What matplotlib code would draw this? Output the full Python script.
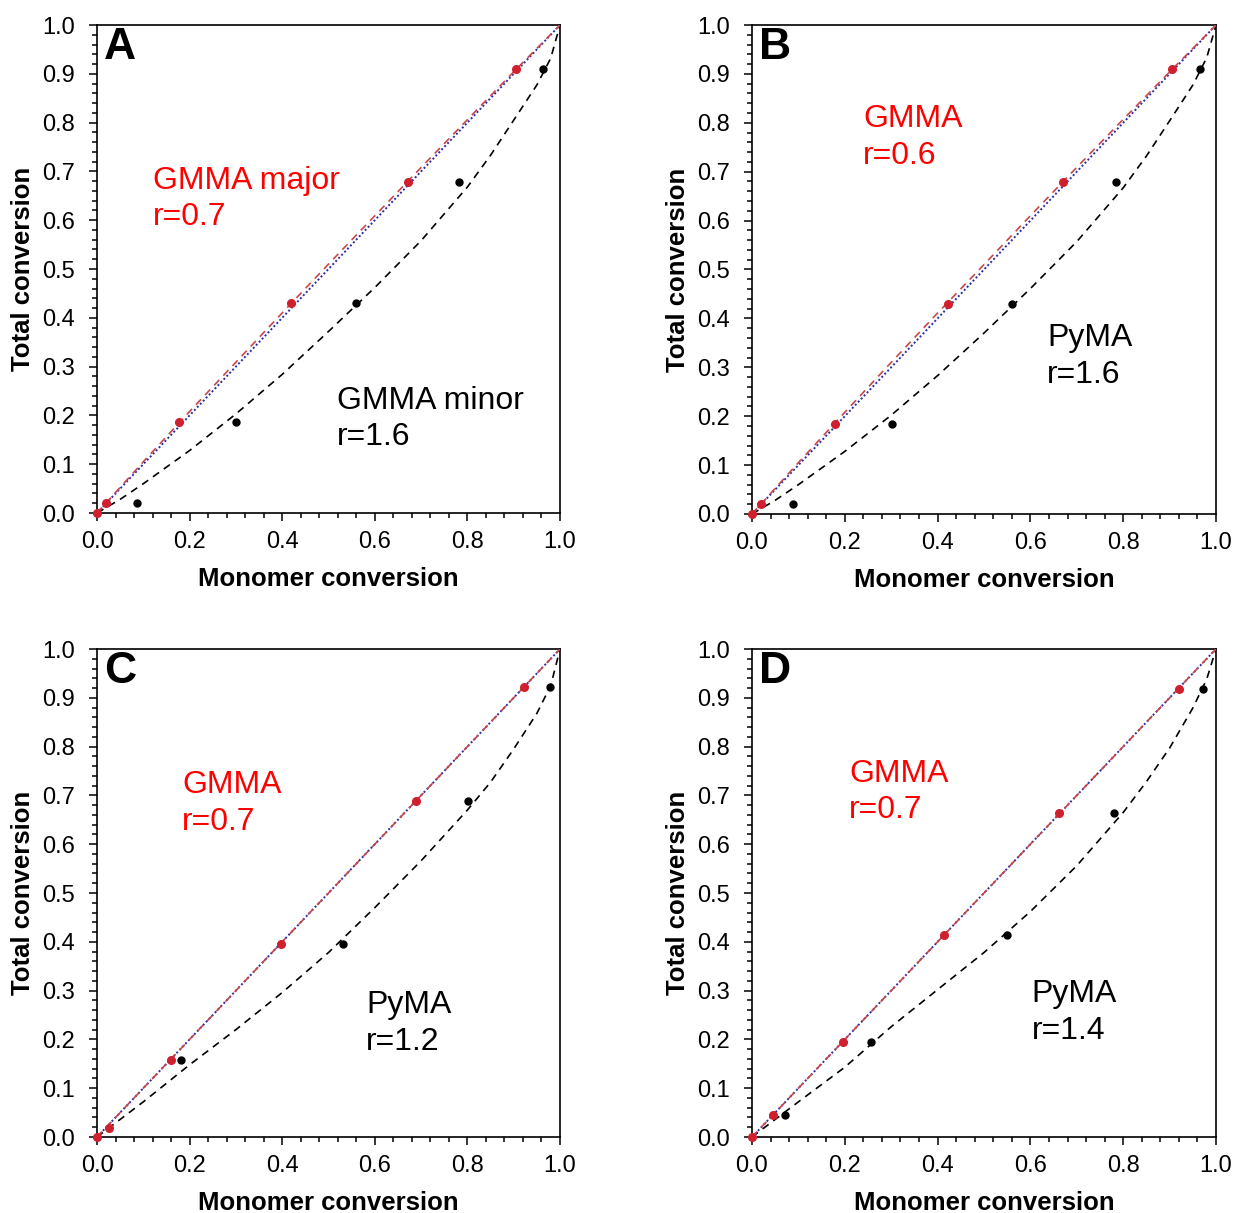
import matplotlib
matplotlib.use("Agg")
import matplotlib.pyplot as plt
from matplotlib.ticker import MultipleLocator, FormatStrFormatter

plt.rcParams['font.family'] = ['Liberation Sans', 'DejaVu Sans']

# ---------------- data ----------------
panel_letters = ["A", "B", "C", "D"]

# Panel A
A_red_x = [0.0, 0.019, 0.178, 0.420, 0.671, 0.904]
A_red_y = [0.0, 0.021, 0.186, 0.431, 0.679, 0.910]
A_blk_x = [0.087, 0.300, 0.559, 0.782, 0.963]
A_blk_y = [0.021, 0.186, 0.431, 0.679, 0.910]
A_fit_red_x = [0.0, 0.1, 0.2, 0.3, 0.4, 0.5, 0.6, 0.7, 0.8, 0.9, 1.0]
A_fit_red_y = [0.0, 0.105, 0.208, 0.309, 0.410, 0.510, 0.609, 0.708, 0.806, 0.904, 1.0]
A_fit_blk_x = [0.0, 0.05, 0.1, 0.2, 0.3, 0.4, 0.5, 0.6, 0.7, 0.8, 0.85, 0.9, 0.95, 0.98, 1.0]
A_fit_blk_y = [0.0, 0.028, 0.060, 0.128, 0.203, 0.284, 0.372, 0.462, 0.558, 0.668, 0.733, 0.805, 0.877, 0.932, 1.0]

# Panel B
B_red_x = [0.0, 0.020, 0.179, 0.422, 0.671, 0.906]
B_red_y = [0.0, 0.020, 0.185, 0.429, 0.678, 0.909]
B_blk_x = [0.088, 0.301, 0.561, 0.784, 0.965]
B_blk_y = [0.020, 0.185, 0.429, 0.678, 0.909]
B_fit_red_x = [0.0, 0.1, 0.2, 0.3, 0.4, 0.5, 0.6, 0.7, 0.8, 0.9, 1.0]
B_fit_red_y = [0.0, 0.105, 0.208, 0.310, 0.411, 0.510, 0.610, 0.709, 0.807, 0.904, 1.0]
B_fit_blk_x = [0.0, 0.05, 0.1, 0.2, 0.3, 0.4, 0.5, 0.6, 0.7, 0.8, 0.85, 0.9, 0.95, 0.98, 1.0]
B_fit_blk_y = [0.0, 0.028, 0.060, 0.128, 0.202, 0.283, 0.370, 0.461, 0.557, 0.667, 0.732, 0.804, 0.877, 0.933, 1.0]

# Panel C
C_red_x = [0.0, 0.025, 0.160, 0.397, 0.689, 0.922]
C_red_y = [0.0, 0.019, 0.158, 0.395, 0.688, 0.923]
C_blk_x = [0.182, 0.531, 0.801, 0.979]
C_blk_y = [0.158, 0.395, 0.688, 0.923]
C_fit_red_x = [0.0, 1.0]
C_fit_red_y = [0.0, 1.0]
C_fit_blk_x = [0.0, 0.1, 0.2, 0.3, 0.4, 0.5, 0.6, 0.7, 0.8, 0.85, 0.9, 0.95, 0.98, 1.0]
C_fit_blk_y = [0.0, 0.072, 0.148, 0.220, 0.296, 0.378, 0.470, 0.566, 0.670, 0.727, 0.795, 0.868, 0.925, 1.0]

# Panel D
D_red_x = [0.0, 0.046, 0.197, 0.414, 0.662, 0.920]
D_red_y = [0.0, 0.046, 0.194, 0.413, 0.664, 0.919]
D_blk_x = [0.072, 0.256, 0.549, 0.780, 0.973]
D_blk_y = [0.046, 0.194, 0.413, 0.664, 0.919]
D_fit_red_x = [0.0, 1.0]
D_fit_red_y = [0.0, 1.0]
D_fit_blk_x = [0.0, 0.1, 0.2, 0.3, 0.4, 0.5, 0.6, 0.7, 0.8, 0.85, 0.9, 0.95, 0.98, 1.0]
D_fit_blk_y = [0.0, 0.072, 0.143, 0.226, 0.302, 0.378, 0.462, 0.556, 0.665, 0.728, 0.797, 0.879, 0.938, 1.0]

diag_x = [0.0, 1.0]
diag_y = [0.0, 1.0]

upper_labels = ["GMMA major\nr=0.7", "GMMA\nr=0.6", "GMMA\nr=0.7", "GMMA\nr=0.7"]
lower_labels = ["GMMA minor\nr=1.6", "PyMA\nr=1.6", "PyMA\nr=1.2", "PyMA\nr=1.4"]
upper_pos = [(0.121, 0.644), (0.239, 0.77), (0.184, 0.683), (0.209, 0.707)]
lower_pos = [(0.518, 0.193), (0.636, 0.322), (0.581, 0.233), (0.603, 0.255)]

panels = [
    (A_red_x, A_red_y, A_blk_x, A_blk_y, A_fit_red_x, A_fit_red_y, A_fit_blk_x, A_fit_blk_y),
    (B_red_x, B_red_y, B_blk_x, B_blk_y, B_fit_red_x, B_fit_red_y, B_fit_blk_x, B_fit_blk_y),
    (C_red_x, C_red_y, C_blk_x, C_blk_y, C_fit_red_x, C_fit_red_y, C_fit_blk_x, C_fit_blk_y),
    (D_red_x, D_red_y, D_blk_x, D_blk_y, D_fit_red_x, D_fit_red_y, D_fit_blk_x, D_fit_blk_y),
]

# ---------------- figure ----------------
W, H = 1238, 1213
fig = plt.figure(figsize=(W / 100, H / 100), dpi=100)
fig.patch.set_facecolor("white")

boxes = [
    (97, 25, 560, 513),
    (752, 25, 1216, 514),
    (97, 649, 560, 1137),
    (752, 649, 1216, 1137),
]

for i, (box, pdata) in enumerate(zip(boxes, panels)):
    x0, y0, x1, y1 = box
    ax = fig.add_axes([x0 / W, 1 - y1 / H, (x1 - x0) / W, (y1 - y0) / H])
    rx, ry, bx, by, frx, fry, fbx, fby = pdata

    ax.plot(fbx, fby, ls=(0, (4.5, 3.5)), color="black", lw=1.2, zorder=2)
    ax.plot(diag_x, diag_y, ls=(0, (1, 1.2)), color="#2b2ba8", lw=1.4, zorder=3)
    ax.plot(frx, fry, ls=(0, (4.5, 3.5)), color="#c8474a", lw=1.2, zorder=3)
    ax.plot(bx, by, 'o', color="black", ms=5, zorder=4, clip_on=False)
    ax.plot(rx, ry, 'o', color="#d0202e", ms=5.5, zorder=5, clip_on=False)

    ax.set_xlim(0, 1)
    ax.set_ylim(0, 1)
    ax.xaxis.set_major_locator(MultipleLocator(0.2))
    ax.xaxis.set_minor_locator(MultipleLocator(0.04))
    ax.yaxis.set_major_locator(MultipleLocator(0.1))
    ax.yaxis.set_minor_locator(MultipleLocator(0.02))
    ax.xaxis.set_major_formatter(FormatStrFormatter('%.1f'))
    ax.yaxis.set_major_formatter(FormatStrFormatter('%.1f'))
    ax.tick_params(which='both', direction='out', top=False, right=False,
                   width=1.1, colors='black')
    ax.tick_params(which='major', length=6, labelsize=17)
    ax.tick_params(axis='x', which='major', pad=7)
    ax.tick_params(axis='y', which='major', pad=10)
    ax.tick_params(which='minor', length=3.5)
    for s in ax.spines.values():
        s.set_linewidth(1.2)

    ax.set_xlabel("Monomer conversion", fontsize=18.5, fontweight='bold', labelpad=10)
    ax.set_ylabel("Total conversion", fontsize=18.5, fontweight='bold', labelpad=5)

    ax.text(0.015, 0.995, panel_letters[i], transform=ax.transAxes, ha='left', va='top',
            fontsize=32, fontweight='bold')

    ux, uy = upper_pos[i]
    ax.text(ux, uy, upper_labels[i], ha='left', va='center', fontsize=23,
            color='#ff0000', linespacing=1.28)
    lx, ly = lower_pos[i]
    ax.text(lx, ly, lower_labels[i], ha='left', va='center', fontsize=23,
            color='black', linespacing=1.28)

fig.savefig("out.png", dpi=100, facecolor="white")
